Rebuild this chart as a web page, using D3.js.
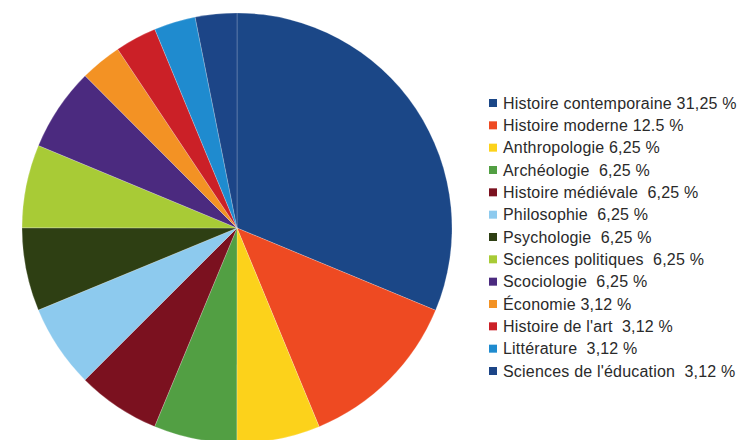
<!DOCTYPE html>
<html><head><meta charset="utf-8">
<script src="https://cdn.jsdelivr.net/npm/d3@7"></script>
<style>body{margin:0;background:#fff;} text{white-space:pre;}</style>
</head><body>
<svg id="c" width="740" height="440"></svg>
<script>
const categories = ["Histoire contemporaine","Histoire moderne","Anthropologie","Archéologie","Histoire médiévale","Philosophie","Psychologie","Sciences politiques","Scociologie","Économie","Histoire de l'art","Littérature","Sciences de l'éducation"];
const values = [31.25,12.5,6.25,6.25,6.25,6.25,6.25,6.25,6.25,3.12,3.12,3.12,3.12];
const valueLabels = ["31,25 %","12.5 %","6,25 %","6,25 %","6,25 %","6,25 %","6,25 %","6,25 %","6,25 %","3,12 %","3,12 %","3,12 %","3,12 %"];
const separators = [" "," "," ","  ","  ","  ","  ","  ","  "," ","  ","  ","  "];
const colors = ["#1b4787","#ee4a22","#fcd21b","#529f43","#7b111f","#8dcaee","#2e3f13","#a8cb36","#4b2a7f","#f39224","#cb2027","#1f8bcf","#1c4587"];

const svg = d3.select("#c");
const cx = 237, cy = 228, r = 215;
const pie = d3.pie().sort(null).value(d => d)(values);
const arc = d3.arc().innerRadius(0).outerRadius(r);
svg.append("g").attr("transform", `translate(${cx},${cy})`)
  .selectAll("path").data(pie).join("path")
  .attr("d", arc).attr("fill", (d, i) => colors[i])
  .attr("stroke", "rgba(255,255,255,0.35)").attr("stroke-width", 0.6);

const ly = d3.scalePoint().domain(d3.range(categories.length)).range([103, 371]);
const lg = svg.append("g");
const items = lg.selectAll("g").data(categories).join("g")
  .attr("transform", (d, i) => `translate(489,${ly(i)})`);
items.append("rect").attr("x", 0).attr("y", -4).attr("width", 8).attr("height", 8)
  .attr("fill", (d, i) => colors[i]);
items.append("text").attr("x", 14).attr("y", 5.5)
  .attr("font-family", "Liberation Sans, Arial, sans-serif").attr("font-size", 16)
  .attr("letter-spacing", 0.2)
  .attr("fill", "#2a2a2a")
  .text((d, i) => d + separators[i] + valueLabels[i]);
</script>
</body></html>
